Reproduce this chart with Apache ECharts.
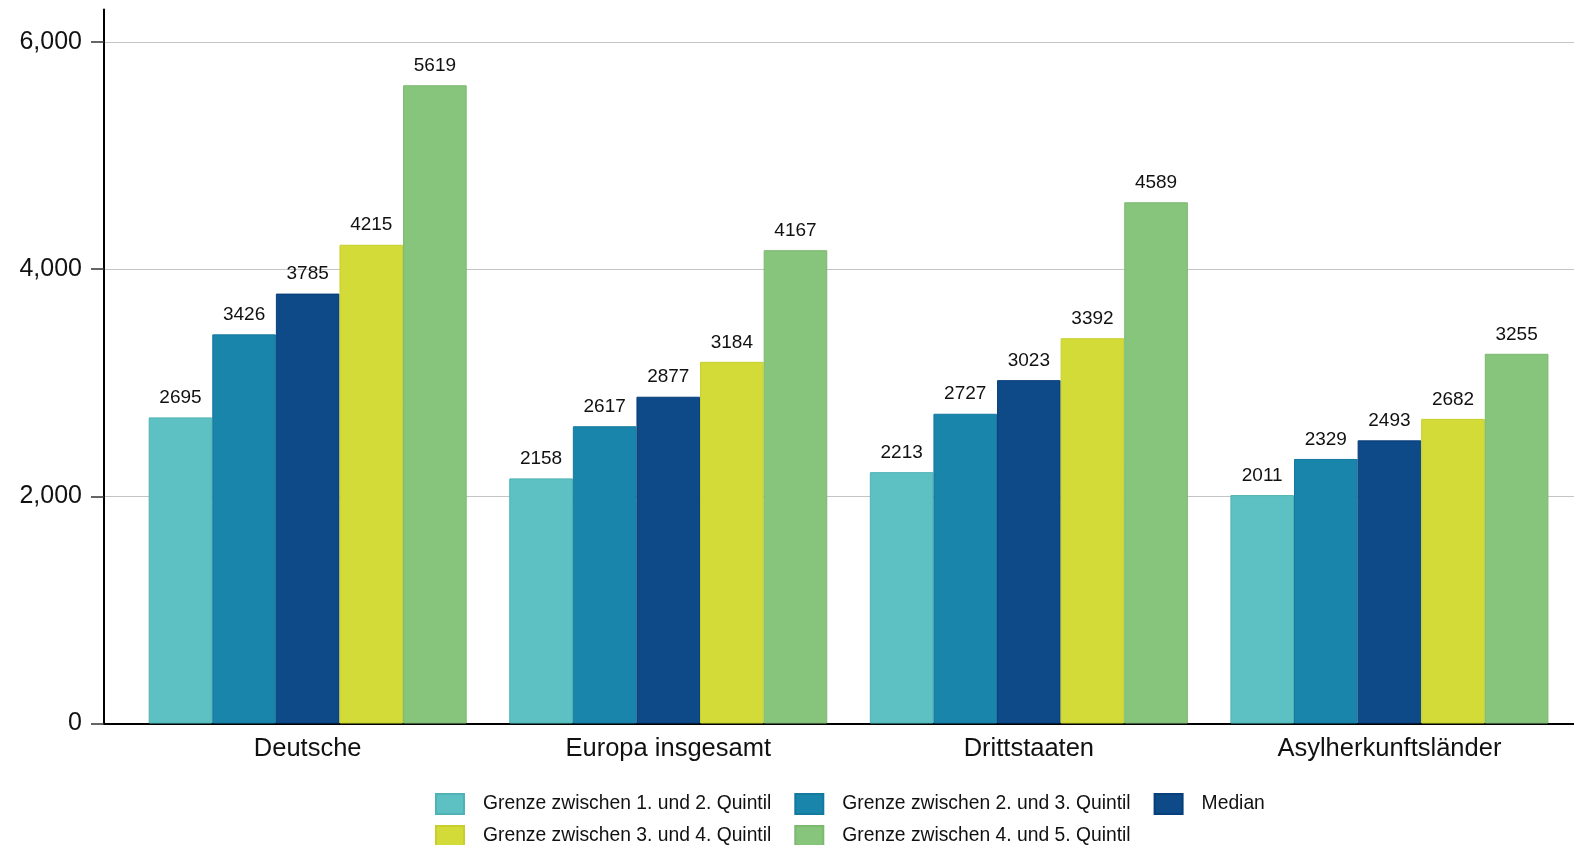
<!DOCTYPE html>
<html>
<head>
<meta charset="utf-8">
<script src="https://cdn.jsdelivr.net/npm/echarts@6/dist/echarts.min.js"></script>
<style>
  html, body { margin: 0; padding: 0; background: #ffffff; }
  #chart { width: 1574px; height: 845px; }
</style>
</head>
<body>
<div id="chart"></div>
<script>
// Income thresholds (quintile boundaries and median) by origin group
const categories = ['Deutsche', 'Europa insgesamt', 'Drittstaaten', 'Asylherkunftsländer'];
const seriesNames = [
  'Grenze zwischen 1. und 2. Quintil',
  'Grenze zwischen 2. und 3. Quintil',
  'Median',
  'Grenze zwischen 3. und 4. Quintil',
  'Grenze zwischen 4. und 5. Quintil'
];
const q12 = [2695, 2158, 2213, 2011];
const q23 = [3426, 2617, 2727, 2329];
const median = [3785, 2877, 3023, 2493];
const q34 = [4215, 3184, 3392, 2682];
const q45 = [5619, 4167, 4589, 3255];
const yTicks = [0, 2000, 4000, 6000];

const seriesValues = [q12, q23, median, q34, q45];
const colors = ['#5dc1c3', '#1985ab', '#0d4a87', '#d2db38', '#87c47c'];
const borders = ['#4fb3b5', '#12799f', '#083f7a', '#c6cf2c', '#7bb870'];
const FONT = '"Liberation Sans", Arial, sans-serif';

const chart = echarts.init(document.getElementById('chart'), null, { renderer: 'canvas' });

const barSeries = seriesNames.map((name, i) => ({
  name: name,
  type: 'bar',
  xAxisIndex: 0,
  yAxisIndex: 0,
  data: seriesValues[i],
  barGap: '0%',
  barCategoryGap: '11.8%',
  itemStyle: { color: colors[i], borderColor: borders[i], borderWidth: 1 },
  label: {
    show: true,
    position: 'top',
    distance: 10,
    color: '#111111',
    fontSize: 19,
    fontFamily: FONT
  },
  emphasis: { disabled: true },
  animation: false
}));

const legendCommon = {
  orient: 'horizontal',
  padding: 0,
  itemWidth: 28,
  itemHeight: 20,
  itemGap: 23,
  icon: 'rect',
  left: 435,
  textStyle: { fontSize: 19.3, color: '#111111', fontFamily: FONT, padding: [0, 0, 0, 14] },
  selectedMode: false
};

chart.setOption({
  animation: false,
  color: colors,
  legend: [
    Object.assign({}, legendCommon, { top: 793, data: seriesNames.slice(0, 3) }),
    Object.assign({}, legendCommon, { top: 825, data: [seriesNames[3], seriesNames[4]] })
  ],
  grid: [
    { left: 127.4, right: 4.3, top: 42, bottom: 121.5 },
    { left: 104, right: 0, top: 42, bottom: 121.5 },
    { left: 104, right: 0, top: 9.5, bottom: 121.5 }
  ],
  xAxis: [
    {
      gridIndex: 0,
      type: 'category',
      data: categories,
      axisLine: { show: false },
      axisTick: { show: false },
      axisLabel: { fontSize: 25.5, color: '#111111', fontFamily: FONT, margin: 12 }
    },
    {
      gridIndex: 1,
      type: 'category',
      data: categories,
      axisLine: { show: true, lineStyle: { color: '#000000', width: 2 } },
      axisTick: { show: false },
      axisLabel: { show: false }
    },
    {
      gridIndex: 2,
      type: 'category',
      data: categories,
      show: false
    }
  ],
  yAxis: [
    {
      gridIndex: 0,
      type: 'value',
      min: yTicks[0],
      max: yTicks[yTicks.length - 1],
      interval: 2000,
      show: false
    },
    {
      gridIndex: 1,
      type: 'value',
      min: yTicks[0],
      max: yTicks[yTicks.length - 1],
      interval: 2000,
      axisLine: { show: false },
      axisTick: { show: true, length: 13, lineStyle: { color: '#333333', width: 1.5 } },
      axisLabel: {
        fontSize: 25,
        color: '#111111',
        fontFamily: FONT,
        margin: 22,
        formatter: v => v.toLocaleString('en-US')
      },
      splitLine: { show: true, showMinLine: false, lineStyle: { color: '#c4c4c4', width: 1.2 } }
    },
    {
      gridIndex: 2,
      type: 'value',
      min: 0,
      max: 6286,
      axisLine: { show: true, lineStyle: { color: '#000000', width: 2 } },
      axisTick: { show: false },
      axisLabel: { show: false },
      splitLine: { show: false }
    }
  ],
  series: barSeries
});
</script>
</body>
</html>
